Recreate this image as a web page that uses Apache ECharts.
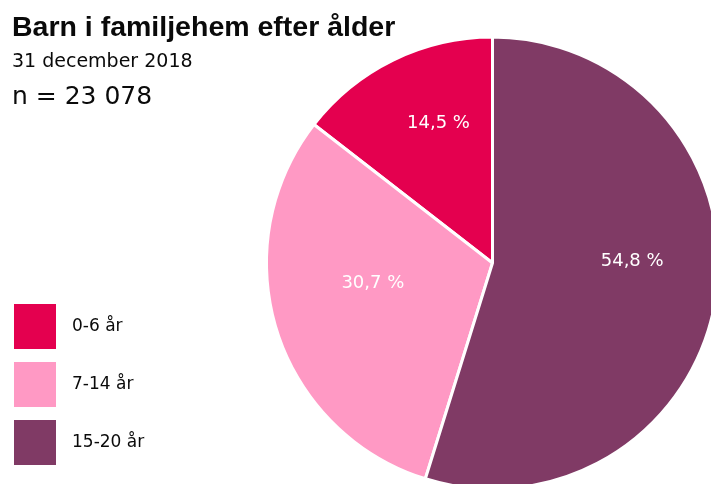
<!DOCTYPE html>
<html>
<head>
<meta charset="utf-8">
<script src="https://cdn.jsdelivr.net/npm/echarts@6/dist/echarts.min.js"></script>
<style>
  html, body { margin: 0; padding: 0; background: #fff; }
  #chart { width: 711px; height: 484px; }
</style>
</head>
<body>
<div id="chart"></div>
<script>
// age groups, shares (%) as printed in the chart
var categories = ["0-6 år", "7-14 år", "15-20 år"];
var shares = [14.5, 30.7, 54.8];
var colors = ["#e4004f", "#ff99c4", "#803a65"];
// nudges so the inner labels sit where the original put them
var labelOffsets = [[-3, -36], [-9, -14], [25, -19]];

var TITLE_FONT = "Liberation Sans";
var FONT = "DejaVu Sans";

var chart = echarts.init(document.getElementById("chart"));

chart.setOption({
  animation: false,
  title: [
    {
      text: "Barn i familjehem efter ålder",
      left: 12,
      top: 14,
      padding: 0,
      textStyle: { fontFamily: TITLE_FONT, fontSize: 28.5, fontWeight: "bold", color: "#0a0a0a" }
    },
    {
      text: "31 december 2018",
      left: 12,
      top: 53,
      padding: 0,
      textStyle: { fontFamily: FONT, fontSize: 19, fontWeight: "normal", color: "#0a0a0a" }
    },
    {
      text: "n = 23 078",
      left: 12,
      top: 85,
      padding: 0,
      textStyle: { fontFamily: FONT, fontSize: 25, fontWeight: "normal", color: "#0a0a0a" }
    }
  ],
  legend: {
    orient: "vertical",
    left: 14,
    top: 304,
    padding: 0,
    icon: "rect",
    itemWidth: 42,
    itemHeight: 45,
    itemGap: 13,
    selectedMode: false,
    data: categories,
    itemStyle: { borderWidth: 0 },
    textStyle: {
      fontFamily: FONT,
      fontSize: 17,
      color: "#0a0a0a",
      padding: [5, 0, 0, 11]
    }
  },
  series: [
    {
      type: "pie",
      center: [492.5, 263],
      radius: 226,
      startAngle: 90,
      clockwise: false,
      silent: true,
      itemStyle: {
        borderColor: "#fff",
        borderWidth: 3
      },
      label: {
        show: true,
        position: "inside",
        color: "#fff",
        fontFamily: FONT,
        fontSize: 18,
        formatter: function (p) {
          return p.value.toFixed(1).replace(".", ",") + " %";
        }
      },
      labelLine: { show: false },
      data: categories.map(function (name, i) {
        return {
          name: name,
          value: shares[i],
          itemStyle: { color: colors[i] },
          label: { offset: labelOffsets[i] }
        };
      })
    }
  ]
});
</script>
</body>
</html>
